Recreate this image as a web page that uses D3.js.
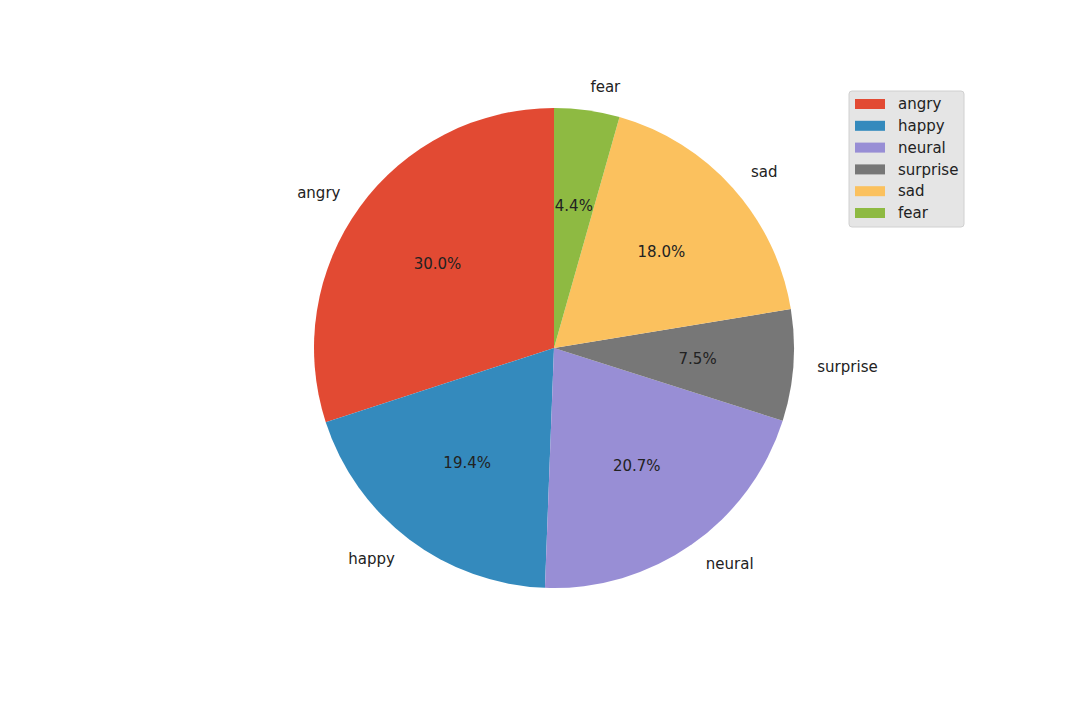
<!DOCTYPE html>
<html>
<head>
<meta charset="utf-8">
<script src="https://cdn.jsdelivr.net/npm/d3@7"></script>
<style>
  body { margin: 0; background: #fff; }
  svg { font-family: "DejaVu Sans", sans-serif; }
</style>
</head>
<body>
<svg id="chart" width="1080" height="702"></svg>
<script>
var labels = ["angry", "happy", "neural", "surprise", "sad", "fear"];
var shares = [30.0, 19.4, 20.7, 7.5, 18.0, 4.4];
var colors = ["#E24A33", "#348ABD", "#988ED5", "#777777", "#FBC15E", "#8EBA42"];

var width = 1080, height = 702,
    cx = 554, cy = 348, radius = 240;

var data = labels.map(function (l, i) { return { label: l, value: shares[i] }; });

var color = d3.scaleOrdinal().domain(labels).range(colors);

var svg = d3.select("#chart");

// matplotlib draws counterclockwise from 12 o'clock
var pie = d3.pie()
    .sort(null)
    .value(function (d) { return d.value; })
    .startAngle(0)
    .endAngle(-2 * Math.PI);

var arc = d3.arc().innerRadius(0).outerRadius(radius);

var g = svg.append("g").attr("transform", "translate(" + cx + "," + cy + ")");

var arcs = pie(data);

g.selectAll("path.slice")
    .data(arcs)
    .enter()
    .append("path")
    .attr("class", "slice")
    .attr("d", arc)
    .attr("fill", function (d) { return color(d.data.label); });

function pos(d, k) {
    var a = (d.startAngle + d.endAngle) / 2;
    return [Math.sin(a) * radius * k, -Math.cos(a) * radius * k];
}

// outer labels
g.selectAll("text.lbl")
    .data(arcs)
    .enter()
    .append("text")
    .attr("class", "lbl")
    .attr("x", function (d) { return pos(d, 1.1)[0]; })
    .attr("y", function (d) { return pos(d, 1.1)[1]; })
    .attr("dy", "0.35em")
    .attr("text-anchor", function (d) {
        var x = pos(d, 1.1)[0];
        return x > 0 ? "start" : "end";
    })
    .style("font-size", "15px")
    .style("fill", "#222")
    .text(function (d) { return d.data.label; });

// percentages
g.selectAll("text.pct")
    .data(arcs)
    .enter()
    .append("text")
    .attr("class", "pct")
    .attr("x", function (d) { return pos(d, 0.6)[0]; })
    .attr("y", function (d) { return pos(d, 0.6)[1]; })
    .attr("dy", "0.35em")
    .attr("text-anchor", "middle")
    .style("font-size", "15px")
    .style("fill", "#222")
    .text(function (d) { return d3.format(".1f")(d.data.value) + "%"; });

// legend
var legend = svg.append("g").attr("transform", "translate(849,91)");
legend.append("rect")
    .attr("width", 115)
    .attr("height", 136)
    .attr("rx", 3)
    .attr("fill", "#E5E5E5")
    .attr("stroke", "#d0d0d0")
    .attr("stroke-width", 1);

var rows = legend.selectAll("g.row")
    .data(labels)
    .enter()
    .append("g")
    .attr("class", "row")
    .attr("transform", function (d, i) { return "translate(0," + (13 + i * 21.8) + ")"; });

rows.append("rect")
    .attr("x", 6)
    .attr("y", -5)
    .attr("width", 30)
    .attr("height", 10)
    .attr("fill", function (d) { return color(d); });

rows.append("text")
    .attr("x", 49)
    .attr("dy", "0.35em")
    .style("font-size", "15px")
    .style("fill", "#222")
    .text(function (d) { return d; });
</script>
</body>
</html>
